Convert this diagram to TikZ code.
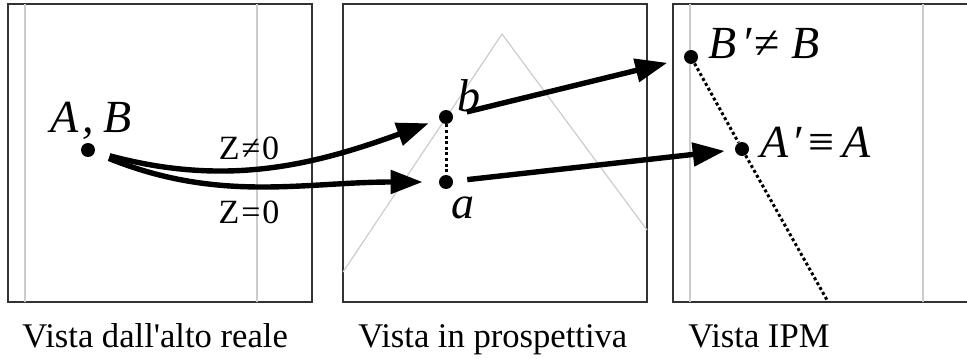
\documentclass[tikz,border=0pt]{standalone}
\usepackage{fontspec}
\setmainfont{Liberation Serif}
\usetikzlibrary{arrows.meta}

\begin{document}
\begin{tikzpicture}[
    x=0.5pt, y=-0.5pt,
    dot/.style={circle, fill=black, inner sep=0pt, minimum size=7pt},
    lab/.style={inner sep=0pt, anchor=base, font=\fontsize{23}{27}\selectfont\itshape},
    zlab/.style={inner sep=0pt, font=\fontsize{17}{20}\selectfont},
    didascalia/.style={inner sep=0pt, anchor=base west, font=\fontsize{17.3}{20}\selectfont},
    riquadro/.style={draw=black!80, line width=0.6pt},
    guida/.style={draw=black!20, line width=0.6pt},
    freccia/.style={-{Triangle[length=16pt,width=11.5pt]}, line width=2.7pt},
    punteggiata/.style={line width=1.5pt, dash pattern=on 1.5pt off 1.3pt}
]

\useasboundingbox (0,0) rectangle (967,358);
\clip (0,0) rectangle (967,358);

% Riquadri delle tre viste
\draw[riquadro] (8,4) rectangle (312,302);
\draw[riquadro] (343,4) rectangle (647,302);
\draw[riquadro] (673,4) rectangle (990,302);

% Linee guida grigie
\draw[guida] (25,4) -- (25,302);
\draw[guida] (257,4) -- (257,302);
\draw[guida] (690,4) -- (690,302);
\draw[guida] (923,4) -- (923,302);
\draw[guida] (343,272) -- (502,34) -- (647,230);

% Punti
\node[dot] (A) at (88,150) {};
\node[dot] (b) at (446,117) {};
\node[dot] (a) at (446,182) {};
\node[dot] (Bp) at (691,57) {};
\node[dot] (Ap) at (742,149) {};
\coordinate (fondo) at (827,300);

% Etichette
\node[lab, anchor=base west] (labAB) at (50,133) {A\kern2pt,\kern5pt B};
\node[lab, anchor=base west] (labb) at (457,112) {b};
\node[lab, anchor=base west] (laba) at (451,218) {a};
\node[lab, anchor=base west] (labBp) at (708,59) {B\kern4pt\upshape′≠\kern6pt\itshape B};
\node[lab, anchor=base west] (labAp) at (760,157) {A\kern3pt\upshape′\kern2pt≡\kern4pt\itshape A};
\node[zlab] (zdiv) at (249,148) {Z\kern1pt≠\kern1pt0};
\node[zlab] (zug) at (249,212) {Z\kern1pt=\kern1pt0};

% Frecce
\draw[freccia, shorten <=7.5pt, shorten >=5.5pt] (A) to[out=-15, in=200] (b);
\draw[freccia, shorten <=7.5pt, shorten >=8pt] (A) to[out=-22, in=180] (a);
\draw[freccia, shorten <=7pt, shorten >=8.5pt] (b) -- (Bp);
\draw[freccia, shorten <=7pt, shorten >=5pt] (a) -- (Ap);

% Linee punteggiate
\draw[punteggiata] (b) -- (a);
\draw[punteggiata] (Bp) -- (Ap) -- (fondo);

% Didascalie
\node[didascalia] (cap1) at (22,347) {Vista dall\textquotesingle alto reale};
\node[didascalia] (cap2) at (358,347) {Vista in prospettiva};
\node[didascalia] (cap3) at (688,347) {Vista IPM};

\end{tikzpicture}
\end{document}
